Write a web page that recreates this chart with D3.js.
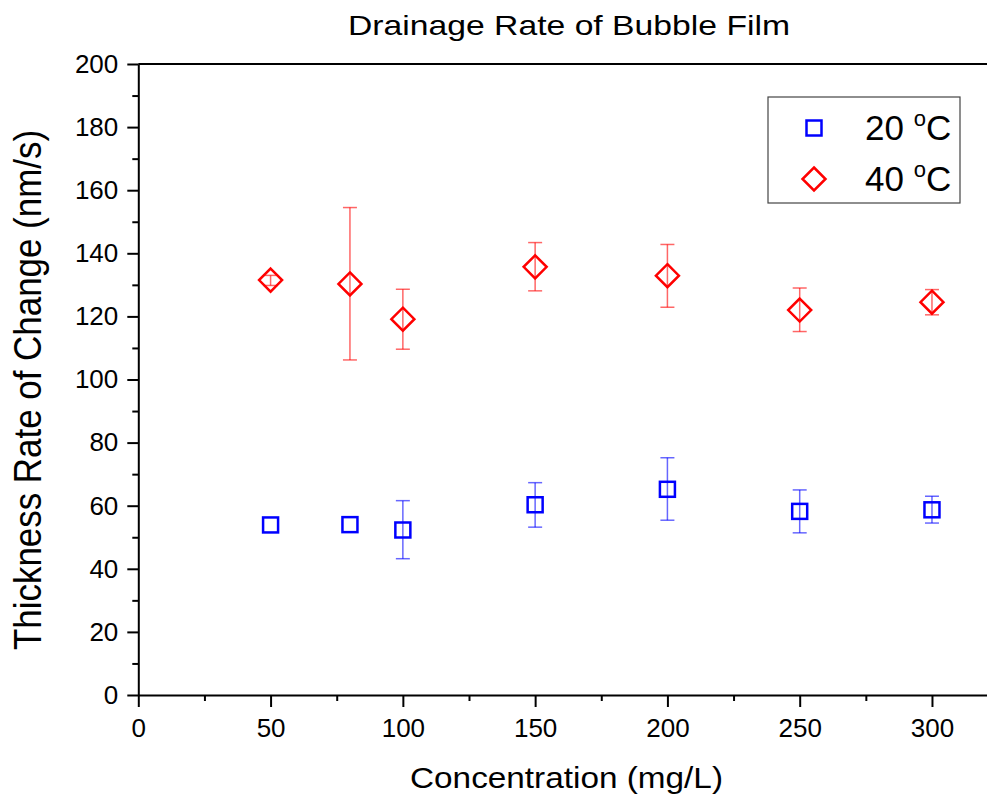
<!DOCTYPE html>
<html>
<head>
<meta charset="utf-8">
<script src="https://cdn.jsdelivr.net/npm/d3@7"></script>
<style>
body { margin: 0; background: #fff; }
svg { display: block; font-family: Arial, "Liberation Sans", sans-serif; }
</style>
</head>
<body>
<svg id="chart" width="987" height="797"></svg>
<script>
// ---- data ----
const concentrations = [50, 80, 100, 150, 200, 250, 300];
const rate20 = [53.9, 54.0, 52.3, 60.3, 65.2, 58.2, 58.7];
const err20Low = [53.9, 54.0, 43.2, 53.2, 55.4, 51.4, 54.5];
const err20High = [53.9, 54.0, 61.6, 67.3, 75.2, 65.0, 63.0];
const rate40 = [131.5, 130.3, 119.1, 135.7, 132.9, 122.0, 124.5];
const err40Low = [129.8, 106.2, 109.6, 128.1, 122.9, 115.2, 120.5];
const err40High = [133.0, 154.5, 128.6, 143.4, 142.8, 129.0, 128.5];
const xMajorTicks = [0, 50, 100, 150, 200, 250, 300];
const xMinorTicks = [25, 75, 125, 175, 225, 275];
const yMajorTicks = [0, 20, 40, 60, 80, 100, 120, 140, 160, 180, 200];
const yMinorTicks = [10, 30, 50, 70, 90, 110, 130, 150, 170, 190];
const seriesNames = ["20 ", "40 "];

const svg = d3.select("#chart");
const x = d3.scaleLinear().domain([0, 320.8]).range([138.3, 987]);
const y = d3.scaleLinear().domain([0, 200]).range([695, 64]);

// top border
svg.append("line").attr("x1", x(0)).attr("x2", 987).attr("y1", y(200)).attr("y2", y(200))
  .attr("stroke", "#000").attr("stroke-width", 2);

// x axis
svg.append("g").attr("transform", `translate(0,${y(0)})`)
  .call(d3.axisBottom(x).tickValues(xMajorTicks).tickSize(12).tickPadding(12).tickSizeOuter(0));
svg.append("g").attr("transform", `translate(0,${y(0)})`)
  .call(d3.axisBottom(x).tickValues(xMinorTicks).tickSize(6).tickFormat("").tickSizeOuter(0))
  .select(".domain").remove();

// y axis
svg.append("g").attr("transform", `translate(${x(0)},0)`)
  .call(d3.axisLeft(y).tickValues(yMajorTicks).tickSize(11).tickPadding(9).tickSizeOuter(0));
svg.append("g").attr("transform", `translate(${x(0)},0)`)
  .call(d3.axisLeft(y).tickValues(yMinorTicks).tickSize(6).tickFormat("").tickSizeOuter(0))
  .select(".domain").remove();

svg.selectAll(".domain").attr("stroke", "#000").attr("stroke-width", 2);
svg.selectAll(".tick line").attr("stroke", "#000").attr("stroke-width", 2);
svg.selectAll(".tick text").attr("font-size", 26).attr("fill", "#000")
  .attr("font-family", "Arial, 'Liberation Sans', sans-serif");

// titles
svg.append("text").attr("x", 569).attr("y", 35).attr("text-anchor", "middle")
  .attr("font-size", 28).attr("textLength", 442).attr("lengthAdjust", "spacingAndGlyphs")
  .text("Drainage Rate of Bubble Film");
svg.append("text").attr("x", 566.5).attr("y", 788).attr("text-anchor", "middle")
  .attr("font-size", 30).attr("textLength", 313).attr("lengthAdjust", "spacingAndGlyphs")
  .text("Concentration (mg/L)");
svg.append("text").attr("transform", `translate(41,390) scale(1.2,1) rotate(-90)`)
  .attr("text-anchor", "middle").attr("font-size", 32)
  .attr("textLength", 520).attr("lengthAdjust", "spacingAndGlyphs")
  .text("Thickness Rate of Change (nm/s)");

// data
const d20 = concentrations.map((c, i) => ({ c, v: rate20[i], lo: err20Low[i], hi: err20High[i] }));
const d40 = concentrations.map((c, i) => ({ c, v: rate40[i], lo: err40Low[i], hi: err40High[i] }));

function errorBars(data, color) {
  const g = svg.append("g").attr("stroke", color).attr("stroke-width", 1.5).attr("stroke-opacity", 0.6);
  data.filter(d => d.hi - d.lo > 0.5).forEach(d => {
    g.append("line").attr("x1", x(d.c)).attr("x2", x(d.c)).attr("y1", y(d.lo)).attr("y2", y(d.hi));
    g.append("line").attr("x1", x(d.c) - 7).attr("x2", x(d.c) + 7).attr("y1", y(d.lo)).attr("y2", y(d.lo));
    g.append("line").attr("x1", x(d.c) - 7).attr("x2", x(d.c) + 7).attr("y1", y(d.hi)).attr("y2", y(d.hi));
  });
}
errorBars(d40, "#ff0000");
errorBars(d20, "#0000ff");

const sq = 15;
svg.append("g").selectAll("rect").data(d20).join("rect")
  .attr("x", d => x(d.c) - sq / 2).attr("y", d => y(d.v) - sq / 2)
  .attr("width", sq).attr("height", sq)
  .attr("fill", "none").attr("stroke", "#0000ff").attr("stroke-width", 2.5);

const dm = 11.5;
const diamond = (cx, cy) => `M${cx},${cy - dm}L${cx + dm},${cy}L${cx},${cy + dm}L${cx - dm},${cy}Z`;
svg.append("g").selectAll("path").data(d40).join("path")
  .attr("d", d => diamond(x(d.c), y(d.v)))
  .attr("fill", "none").attr("stroke", "#ff0000").attr("stroke-width", 2.5);

// legend
svg.append("rect").attr("x", 768).attr("y", 97).attr("width", 192).attr("height", 106)
  .attr("fill", "#fff").attr("stroke", "#444").attr("stroke-width", 1.2);
svg.append("rect").attr("x", 814 - 7.5).attr("y", 128 - 7.5).attr("width", 15).attr("height", 15)
  .attr("fill", "none").attr("stroke", "#0000ff").attr("stroke-width", 2.5);
svg.append("path").attr("d", diamond(814, 179))
  .attr("fill", "none").attr("stroke", "#ff0000").attr("stroke-width", 2.5);
[140, 191].forEach((by, i) => {
  const t = svg.append("text").attr("x", 865).attr("y", by).attr("font-size", 35);
  t.append("tspan").text(seriesNames[i]);
  t.append("tspan").attr("font-size", 22).attr("dy", -14).text("o");
  t.append("tspan").attr("dy", 14).text("C");
});
</script>
</body>
</html>
